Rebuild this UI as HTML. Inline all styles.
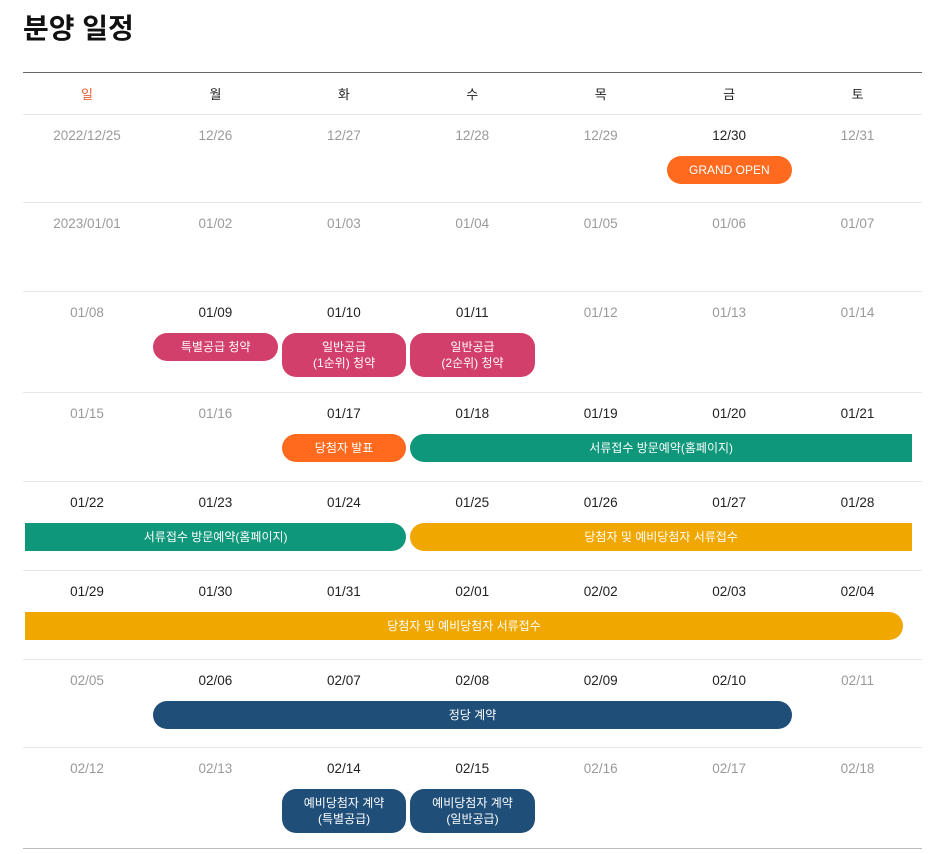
<!DOCTYPE html>
<html><head><meta charset="utf-8">
<style>
body{margin:0;background:#fff;font-family:"Liberation Sans","Noto Sans CJK KR",sans-serif;}
#wrap{position:relative;width:942px;height:854px;overflow:hidden;}
h1{position:absolute;left:23px;top:7px;margin:0;font-size:28px;font-weight:bold;color:#111;letter-spacing:0px;}
.line{position:absolute;left:23px;width:899px;height:1px;background:#e8e8e8;}
.dow{position:absolute;top:84px;width:128px;text-align:center;font-size:13px;color:#222;}
.date{position:absolute;width:128px;text-align:center;font-size:13.5px;}
.bar{position:absolute;color:#fff;font-size:12px;display:flex;align-items:center;justify-content:center;text-align:center;line-height:16px;}
</style></head>
<body>
<div id="wrap">
<h1>분양 일정</h1>
<div class="line" style="top:72px;background:#666;"></div>
</div>
<script>
const dows=["일","월","화","수","목","금","토"];
const dates=[
["2022/12/25","12/26","12/27","12/28","12/29","12/30","12/31"],
["2023/01/01","01/02","01/03","01/04","01/05","01/06","01/07"],
["01/08","01/09","01/10","01/11","01/12","01/13","01/14"],
["01/15","01/16","01/17","01/18","01/19","01/20","01/21"],
["01/22","01/23","01/24","01/25","01/26","01/27","01/28"],
["01/29","01/30","01/31","02/01","02/02","02/03","02/04"],
["02/05","02/06","02/07","02/08","02/09","02/10","02/11"],
["02/12","02/13","02/14","02/15","02/16","02/17","02/18"]];
const active=["12/30","01/09","01/10","01/11","01/17","01/18","01/19","01/20","01/21","01/22","01/23","01/24","01/25","01/26","01/27","01/28","01/29","01/30","01/31","02/01","02/02","02/03","02/04","02/06","02/07","02/08","02/09","02/10","02/14","02/15"];
// events: [row, startCol, endCol, label, color, roundLeft, roundRight]
const events=[
[0,5,5,"GRAND OPEN","#ff6a1f",1,1],
[2,1,1,"특별공급 청약","#d33f6b",1,1],
[2,2,2,"일반공급<br>(1순위) 청약","#d33f6b",1,1],
[2,3,3,"일반공급<br>(2순위) 청약","#d33f6b",1,1],
[3,2,2,"당첨자 발표","#ff6a1f",1,1],
[3,3,6,"서류접수 방문예약(홈페이지)","#0e977a",1,0],
[4,0,2,"서류접수 방문예약(홈페이지)","#0e977a",0,1],
[4,3,6,"당첨자 및 예비당첨자 서류접수","#f0a800",1,0],
[5,0,6,"당첨자 및 예비당첨자 서류접수","#f0a800",0,1],
[6,1,5,"정당 계약","#1f4e79",1,1],
[7,2,2,"예비당첨자 계약<br>(특별공급)","#1f4e79",1,1],
[7,3,3,"예비당첨자 계약<br>(일반공급)","#1f4e79",1,1]];
const rowTops=[114,202,291,392,481,570,659,747,848];
const W=document.getElementById('wrap');
const X0=23,CW=899/7;
const colX=c=>X0+c*CW;
dows.forEach((d,i)=>{const e=document.createElement('div');e.className='dow';


e.style.left=colX(i)+'px';e.textContent=d;if(i==0)e.style.color='#f0603a';W.appendChild(e);});
rowTops.forEach((t,i)=>{const l=document.createElement('div');l.className='line';l.style.top=t+'px';
if(i==rowTops.length-1)l.style.background='#bbb';


W.appendChild(l);});
dates.forEach((row,r)=>row.forEach((d,c)=>{const e=document.createElement('div');e.className='date';


e.style.left=colX(c)+'px';e.style.top=(rowTops[r]+14)+'px';e.textContent=d;
const act=active.includes(d);e.style.color=act?'#222':'#9a9a9a';W.appendChild(e);}));
events.forEach(ev=>{const [r,s,en,label,col,rl,rr]=ev;const e=document.createElement('div');e.className='bar';


const two=label.includes('<br>');const h=two?44:28;
let x1=colX(s)+2,x2=colX(en+1)-2;
if(!rr&&en==6)x2=912;
if(rr&&en==6)x2=903;
e.style.left=x1+'px';e.style.width=(x2-x1)+'px';e.style.top=(rowTops[r]+42)+'px';e.style.height=h+'px';
const rad=two?14:14;
e.style.borderRadius=(rl?rad:0)+'px '+(rr?rad:0)+'px '+(rr?rad:0)+'px '+(rl?rad:0)+'px';
e.style.background=col;e.innerHTML=label;W.appendChild(e);});
</script>
</body></html>
